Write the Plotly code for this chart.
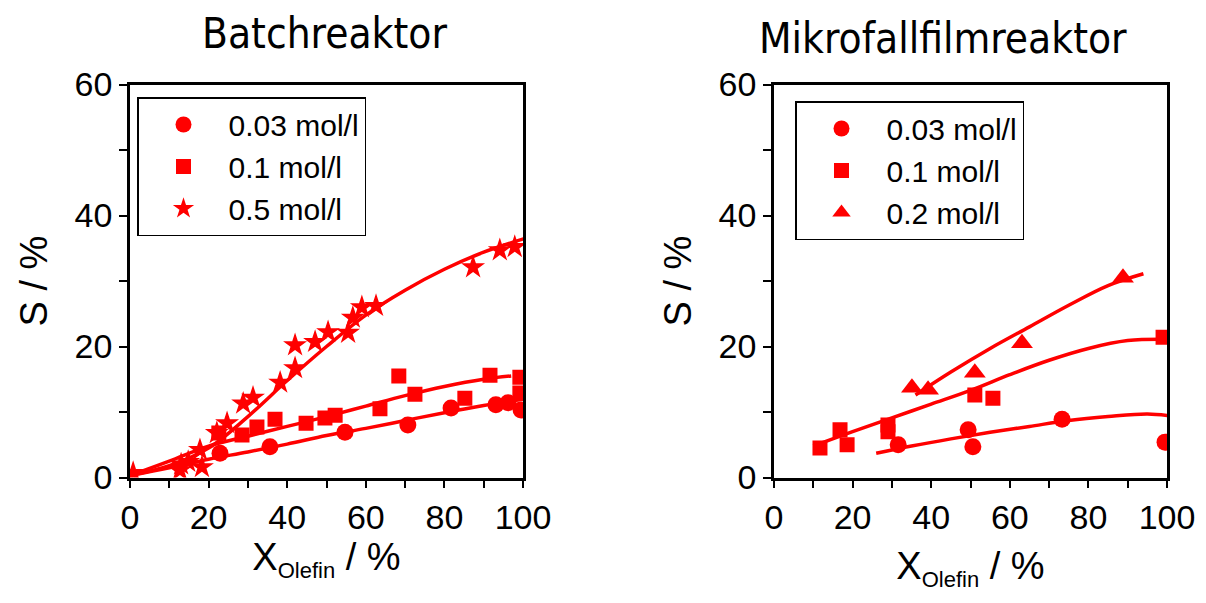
import plotly.graph_objects as go

RED = "#ff0000"

# ---------- Batchreaktor (left) ----------
b_c003_x = [22.9, 35.6, 54.7, 70.7, 81.7, 93.1, 96.2, 99.5]
b_c003_y = [3.7, 4.7, 6.9, 8.0, 10.6, 11.1, 11.4, 10.3]
b_c01_x = [22.6, 28.5, 32.3, 36.9, 44.8, 49.6, 52.2, 63.6, 68.4, 72.5, 85.2, 91.6, 99.2, 99.2]
b_c01_y = [6.8, 6.5, 7.7, 8.9, 8.3, 9.1, 9.5, 10.5, 15.5, 12.7, 12.1, 15.6, 15.3, 12.9]
b_c05_x = [0.8, 12.7, 14.8, 18.3, 13.0, 17.8, 22.1, 24.7, 28.8, 31.3, 38.2, 42.0, 42.0,
           47.1, 50.4, 55.5, 56.7, 59.0, 62.6, 87.3, 94.1, 97.9]
b_c05_y = [0.7, 1.1, 2.4, 1.6, 2.0, 4.2, 6.8, 8.3, 11.3, 12.2, 14.5, 16.7, 20.2,
           20.7, 22.2, 22.1, 24.4, 26.0, 26.2, 32.1, 34.7, 35.2]

b_fit003_x = [0, 10, 20, 30, 40, 50, 60, 70, 80, 90, 100.5]
b_fit003_y = [0.3, 1.5, 2.8, 3.9, 5.1, 6.4, 7.5, 8.7, 9.9, 11.0, 12.0]
b_fit01_x = [0, 10, 20, 30, 40, 50, 60, 70, 80, 90, 97]
b_fit01_y = [0.3, 2.5, 4.8, 6.3, 7.8, 9.3, 10.9, 12.5, 13.9, 15.0, 15.5]
b_fit05_x = [0, 10, 20, 30, 40, 50, 60, 70, 80, 90, 100.5]
b_fit05_y = [0.3, 1.8, 4.5, 9.3, 14.8, 20.0, 24.8, 28.6, 31.8, 34.4, 36.5]

# ---------- Mikrofallfilmreaktor (right) ----------
m_c003_x = [31.6, 49.4, 50.6, 73.3, 99.5]
m_c003_y = [5.0, 7.3, 4.7, 8.9, 5.4]
m_c01_x = [11.7, 16.8, 18.6, 29.0, 29.0, 51.1, 55.7, 99.0]
m_c01_y = [4.5, 7.3, 5.0, 8.0, 7.0, 12.6, 12.1, 21.4]
m_c02_x = [35.1, 39.2, 51.1, 63.1, 88.8]
m_c02_y = [13.7, 13.4, 16.0, 20.5, 30.5]

m_fit003_x = [26, 35, 45, 55, 65, 75, 85, 95, 101]
m_fit003_y = [3.7, 4.8, 5.9, 6.9, 7.8, 8.7, 9.3, 9.7, 9.4]
m_fit01_x = [10, 20, 30, 40, 50, 60, 70, 80, 90, 100]
m_fit01_y = [4.8, 7.0, 9.1, 11.2, 13.3, 15.7, 17.9, 19.7, 20.9, 21.1]
m_fit02_x = [36, 45, 55, 65, 75, 85, 94]
m_fit02_y = [12.6, 16.1, 19.7, 23.0, 26.3, 29.3, 31.1]

labels_left = ["0.03 mol/l", "0.1 mol/l", "0.5 mol/l"]
labels_right = ["0.03 mol/l", "0.1 mol/l", "0.2 mol/l"]

fig = go.Figure()

def fit(x, y, xa, ya):
    fig.add_trace(go.Scatter(x=x, y=y, mode="lines", xaxis=xa, yaxis=ya,
                             line=dict(color=RED, width=3.5, shape="spline", smoothing=1.0),
                             showlegend=False, hoverinfo="skip"))

def pts(x, y, xa, ya, sym, size, name, legend):
    fig.add_trace(go.Scatter(x=x, y=y, mode="markers", xaxis=xa, yaxis=ya, name=name,
                             marker=dict(color=RED, symbol=sym, size=size, line=dict(width=0)),
                             legend=legend, showlegend=True))

fit(b_fit003_x, b_fit003_y, "x", "y")
fit(b_fit01_x, b_fit01_y, "x", "y")
fit(b_fit05_x, b_fit05_y, "x", "y")
pts(b_c003_x, b_c003_y, "x", "y", "circle", 17, labels_left[0], "legend")
pts(b_c01_x, b_c01_y, "x", "y", "square", 15, labels_left[1], "legend")
pts(b_c05_x, b_c05_y, "x", "y", "star", 18, labels_left[2], "legend")

fit(m_fit003_x, m_fit003_y, "x2", "y2")
fit(m_fit01_x, m_fit01_y, "x2", "y2")
fit(m_fit02_x, m_fit02_y, "x2", "y2")
pts(m_c003_x, m_c003_y, "x2", "y2", "circle", 17, labels_right[0], "legend2")
pts(m_c01_x, m_c01_y, "x2", "y2", "square", 15, labels_right[1], "legend2")
pts(m_c02_x, m_c02_y, "x2", "y2", "triangle-up", 19, labels_right[2], "legend2")

W, H = 1206, 603
TICKFONT = dict(family="Liberation Sans, Arial, sans-serif", size=34, color="black")
TITLEFONT = dict(family="Liberation Sans, Arial, sans-serif", size=38, color="black")
xtitle = 'X<sub><span style="font-size:22px">Olefin</span></sub> / %'

def xaxis(domain, anchor, standoff):
    return dict(domain=domain, anchor=anchor, range=[0, 100], tickvals=[0, 20, 40, 60, 80, 100],
                ticks="outside", ticklen=8, tickwidth=2, tickcolor="black",
                minor=dict(dtick=10, tick0=0, ticks="outside", ticklen=8, tickwidth=2, tickcolor="black"),
                showline=True, linecolor="black", linewidth=2.5, mirror=True,
                showgrid=False, zeroline=False, tickfont=TICKFONT, automargin=False,
                title=dict(text=xtitle, font=TITLEFONT, standoff=standoff), fixedrange=True)

def yaxis(domain, anchor):
    return dict(domain=domain, anchor=anchor, range=[0, 60], tickvals=[0, 20, 40, 60],
                ticks="outside", ticklen=8, tickwidth=2, tickcolor="black",
                minor=dict(dtick=10, tick0=0, ticks="outside", ticklen=8, tickwidth=2, tickcolor="black"),
                showline=True, linecolor="black", linewidth=2.5, mirror=True,
                showgrid=False, zeroline=False, tickfont=TICKFONT, automargin=False,
                title=dict(text="S / %", font=TITLEFONT, standoff=16), fixedrange=True)

ydom = [1 - 477.5 / H, 1 - 84.5 / H]
LEGFONT = dict(family="Liberation Sans, Arial, sans-serif", size=30, color="black")
fig.update_layout(
    width=W, height=H, margin=dict(l=0, r=0, t=0, b=0, pad=0, autoexpand=False),
    paper_bgcolor="white", plot_bgcolor="white",
    xaxis=xaxis([130 / W, 523 / W], "y", 6),
    yaxis=yaxis(ydom, "x"),
    xaxis2=xaxis([774 / W, 1167 / W], "y2", 18),
    yaxis2=yaxis(ydom, "x2"),
    legend=dict(x=137 / W, y=1 - 97 / H, xanchor="left", yanchor="top",
                bordercolor="black", borderwidth=1.5, bgcolor="white",
                font=LEGFONT, itemwidth=80, tracegroupgap=0),
    legend2=dict(x=795 / W, y=1 - 101 / H, xanchor="left", yanchor="top",
                 bordercolor="black", borderwidth=1.5, bgcolor="white",
                 font=LEGFONT, itemwidth=80, tracegroupgap=0),
    showlegend=True,
    annotations=[
        dict(text="Batchreaktor", x=324 / W, y=1 - 34 / H, xref="paper", yref="paper",
             xanchor="center", yanchor="middle", showarrow=False,
             font=dict(family="DejaVu Sans Condensed, DejaVu Sans, sans-serif", size=42, color="black")),
        dict(text="Mikrofallfilmreaktor", x=943 / W, y=1 - 38 / H, xref="paper", yref="paper",
             xanchor="center", yanchor="middle", showarrow=False,
             font=dict(family="DejaVu Sans Condensed, DejaVu Sans, sans-serif", size=42, color="black")),
    ],
)

fig.write_html("out.html", config={"displayModeBar": False})
